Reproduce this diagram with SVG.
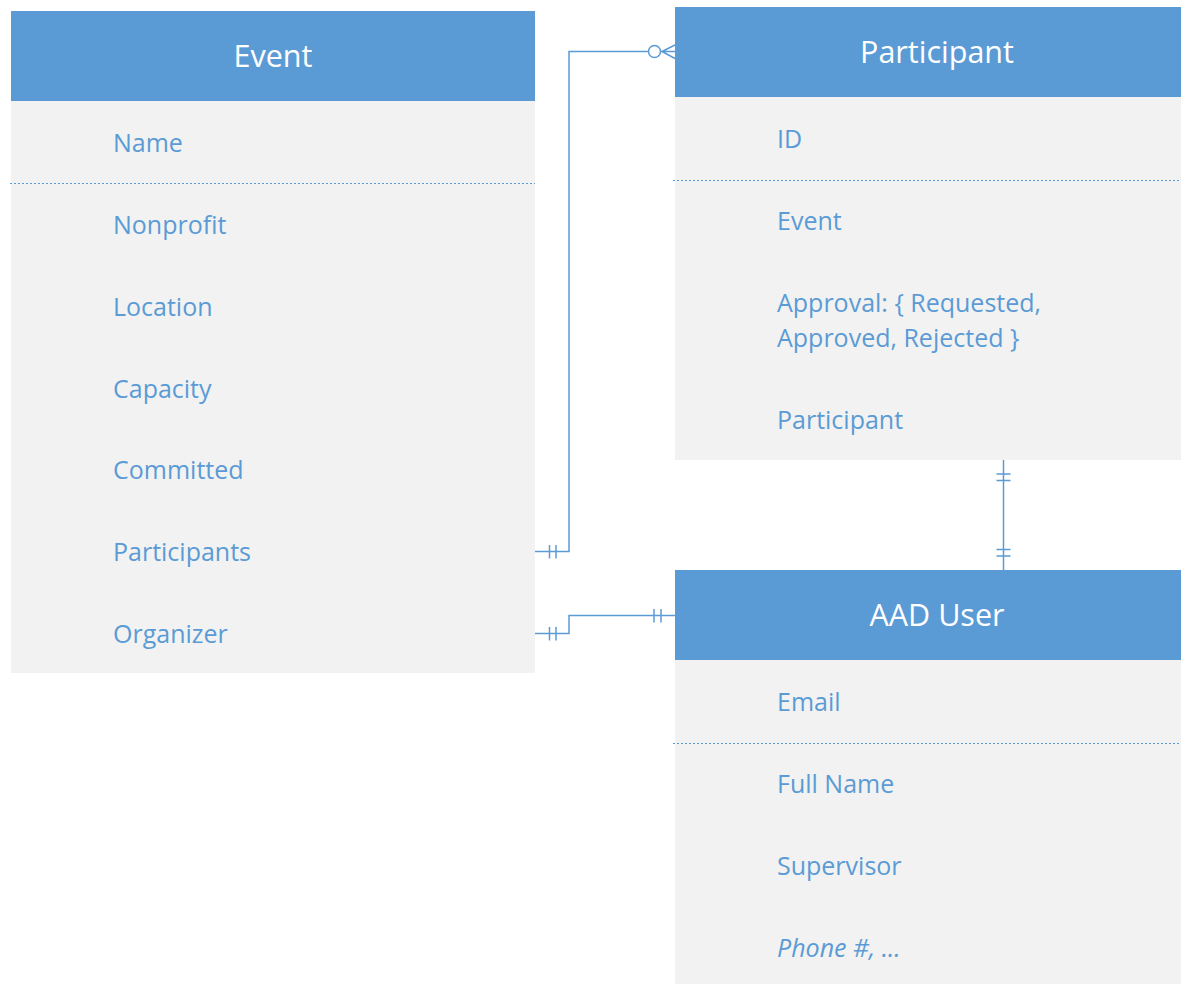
<svg xmlns="http://www.w3.org/2000/svg" width="1181" height="984" viewBox="0 0 1181 984">
<style>
.hdr{fill:#5B9BD5}
.body{fill:#F2F2F2}
.ttl{font-family:"Open Sans","Noto Sans",sans-serif;font-size:30.5px;fill:#FFFFFF;text-anchor:middle;dominant-baseline:central}
.fld{font-family:"Open Sans","Noto Sans",sans-serif;font-size:25px;fill:#5B9BD5;dominant-baseline:central}
.dot{stroke:#5B9BD5;stroke-width:1;stroke-dasharray:2 2;fill:none}
.ln{stroke:#5B9BD5;stroke-width:1.5;fill:none}
</style>
<rect width="1181" height="984" fill="#FFFFFF"/>
<g id="event">
<rect class="body" x="11" y="101" width="524" height="572"/>
<rect class="hdr" x="11" y="11" width="524" height="90"/>
<text class="ttl" x="273" y="55">Event</text>
<text class="fld" x="113" y="142">Name</text>
<line class="dot" x1="10" y1="183.5" x2="535" y2="183.5"/>
<text class="fld" x="113" y="224">Nonprofit</text>
<text class="fld" x="113" y="306">Location</text>
<text class="fld" x="113" y="388">Capacity</text>
<text class="fld" x="113" y="469">Committed</text>
<text class="fld" x="113" y="551">Participants</text>
<text class="fld" x="113" y="633">Organizer</text>
</g>
<g id="participant">
<rect class="body" x="675" y="97" width="506" height="363"/>
<rect class="hdr" x="675" y="7" width="506" height="90"/>
<text class="ttl" x="937" y="51">Participant</text>
<text class="fld" x="777" y="138">ID</text>
<line class="dot" x1="673" y1="180.5" x2="1181" y2="180.5"/>
<text class="fld" x="777" y="220">Event</text>
<text class="fld" x="777" y="302">Approval: { Requested,</text>
<text class="fld" x="777" y="337">Approved, Rejected }</text>
<text class="fld" x="777" y="419">Participant</text>
</g>
<g id="aaduser">
<rect class="body" x="675" y="660" width="506" height="324"/>
<rect class="hdr" x="675" y="570" width="506" height="90"/>
<text class="ttl" x="937" y="614">AAD User</text>
<text class="fld" x="777" y="701">Email</text>
<line class="dot" x1="673" y1="743.5" x2="1181" y2="743.5"/>
<text class="fld" x="777" y="783">Full Name</text>
<text class="fld" x="777" y="865">Supervisor</text>
<text class="fld" x="777" y="947" font-style="italic">Phone #, ...</text>
</g>
<g id="connectors">
<path class="ln" d="M535 551.5 H569 V51.5 H648"/>
<circle class="ln" cx="654.5" cy="51.5" r="6"/>
<path class="ln" d="M661 51.5 H675 M662 51.5 L675 45 M662 51.5 L675 58.5"/>
<path class="ln" d="M549.5 545 V558.5 M556 545 V558.5"/>
<path class="ln" d="M535 633.5 H569 V615.5 H675"/>
<path class="ln" d="M549.5 627 V640.5 M556 627 V640.5"/>
<path class="ln" d="M654 609 V622.5 M661 609 V622.5"/>
<path class="ln" d="M1003.5 460 V570"/>
<path class="ln" d="M996.5 474 H1010.5 M996.5 480.5 H1010.5 M996.5 549.5 H1010.5 M996.5 556 H1010.5"/>
</g>
</svg>
